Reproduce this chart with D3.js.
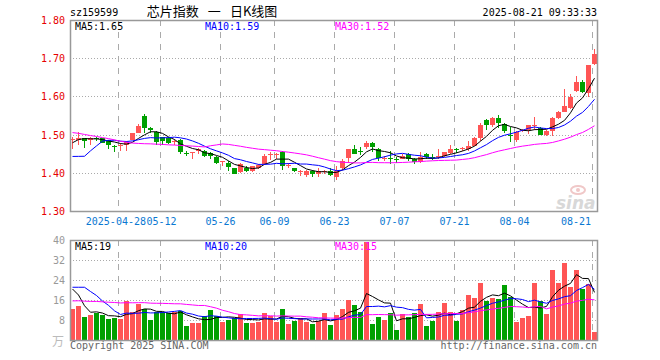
<!DOCTYPE html>
<html><head><meta charset="utf-8">
<script src="https://cdn.jsdelivr.net/npm/d3@7"></script>
<style>body{margin:0;background:#fff}svg{display:block}</style>
</head><body><svg id="c" width="660" height="360"></svg>
<script>
// ---------- data ----------
const dates = ["04-16","04-17","04-18","04-21","04-22","04-23","04-24","04-25","04-28","04-29","04-30",
"05-06","05-07","05-08","05-09","05-12","05-13","05-14","05-15","05-16","05-19","05-20","05-21","05-22","05-23","05-26","05-27","05-28","05-29","05-30",
"06-03","06-04","06-05","06-06","06-09","06-10","06-11","06-12","06-13","06-16","06-17","06-18","06-19","06-20","06-23","06-24","06-25","06-26","06-27","06-30",
"07-01","07-02","07-03","07-04","07-07","07-08","07-09","07-10","07-11","07-14","07-15","07-16","07-17","07-18","07-21","07-22","07-23","07-24","07-25","07-28","07-29","07-30","07-31",
"08-01","08-04","08-05","08-06","08-07","08-08","08-11","08-12","08-13","08-14","08-15","08-18","08-19","08-20","08-21"];
const opens = [1.487,1.486,1.490,1.486,1.490,1.490,1.485,1.471,1.471,1.472,1.486,1.505,1.550,1.516,1.508,1.494,1.492,1.482,1.485,1.451,1.453,1.457,1.457,1.452,1.442,1.429,1.426,1.412,1.401,1.412,
1.404,1.412,1.424,1.447,1.447,1.454,1.420,1.412,1.403,1.395,1.405,1.397,1.403,1.404,1.388,1.412,1.439,1.461,1.457,1.467,
1.477,1.463,1.436,1.440,1.436,1.436,1.450,1.436,1.427,1.450,1.442,1.443,1.443,1.452,1.462,1.464,1.461,1.471,1.490,1.537,1.524,1.544,1.529,
1.499,1.485,1.509,1.513,1.523,1.516,1.500,1.509,1.544,1.559,1.570,1.614,1.637,1.609,1.686];
const highs = [1.495,1.507,1.491,1.494,1.494,1.492,1.486,1.474,1.479,1.483,1.505,1.527,1.554,1.519,1.509,1.495,1.494,1.489,1.488,1.457,1.455,1.465,1.459,1.455,1.443,1.431,1.430,1.413,1.426,1.419,
1.419,1.424,1.448,1.454,1.452,1.457,1.426,1.413,1.408,1.408,1.408,1.412,1.408,1.412,1.419,1.435,1.461,1.474,1.467,1.483,
1.481,1.465,1.445,1.457,1.442,1.450,1.452,1.439,1.455,1.452,1.448,1.463,1.455,1.474,1.465,1.468,1.483,1.493,1.531,1.541,1.546,1.552,1.531,
1.520,1.509,1.515,1.524,1.546,1.519,1.511,1.545,1.561,1.620,1.605,1.653,1.644,1.681,1.724];
const lows = [1.463,1.474,1.465,1.474,1.483,1.477,1.461,1.454,1.457,1.458,1.485,1.503,1.505,1.503,1.474,1.474,1.475,1.474,1.450,1.443,1.436,1.448,1.442,1.437,1.424,1.417,1.406,1.396,1.400,1.401,
1.401,1.411,1.421,1.433,1.435,1.408,1.412,1.403,1.392,1.390,1.390,1.388,1.397,1.392,1.381,1.408,1.426,1.448,1.446,1.461,
1.454,1.430,1.430,1.424,1.426,1.435,1.430,1.423,1.426,1.435,1.433,1.435,1.442,1.448,1.452,1.456,1.456,1.469,1.483,1.511,1.520,1.517,1.503,
1.480,1.480,1.506,1.502,1.513,1.500,1.496,1.496,1.541,1.559,1.568,1.612,1.609,1.599,1.683];
const closes = [1.488,1.492,1.483,1.492,1.489,1.479,1.473,1.470,1.472,1.481,1.504,1.523,1.517,1.512,1.481,1.483,1.477,1.483,1.454,1.450,1.454,1.461,1.443,1.443,1.426,1.430,1.414,1.397,1.423,1.405,
1.417,1.421,1.445,1.448,1.448,1.417,1.421,1.404,1.404,1.404,1.397,1.405,1.404,1.395,1.404,1.430,1.461,1.450,1.456,1.477,
1.468,1.439,1.439,1.439,1.435,1.445,1.435,1.427,1.442,1.442,1.441,1.444,1.454,1.461,1.461,1.465,1.471,1.491,1.526,1.524,1.544,1.531,1.509,
1.498,1.506,1.513,1.524,1.524,1.500,1.509,1.544,1.559,1.574,1.599,1.637,1.611,1.681,1.710];
const volumes = [12.4,13.7,9.3,10.0,10.9,10.0,8.4,8.9,8.4,15.7,11.3,14.3,12.4,8.0,11.3,11.1,10.7,11.3,11.6,5.7,6.9,6.9,9.6,12.0,9.6,7.1,8.0,8.7,10.3,6.9,
6.9,7.3,10.9,9.6,7.3,12.4,6.4,7.6,8.7,7.3,6.4,7.6,10.9,6.0,10.0,12.4,16.0,14.0,11.3,39.3,
6.4,9.2,8.0,10.8,4.0,10.4,9.2,10.8,14.4,5.6,7.7,11.2,14.8,11.2,7.6,12.0,18.0,16.9,22.8,15.6,16.9,16.4,22.0,
17.3,7.2,8.8,9.6,22.8,15.6,10.4,28.0,22.8,30.8,21.2,28.0,20.4,22.4,3.2];
// sessions before the visible window (03-05 .. 04-15), only used for the moving averages
const preCloses = [1.55,1.57,1.58,1.56,1.57,1.55,1.57,1.58,1.56,1.57,1.55,1.54,1.52,1.51,1.50,1.51,1.50,1.49,1.47,1.48,
1.49,1.48,1.35,1.36,1.355,1.45,1.47,1.495,1.49];
const preVolumes = [12,14,13,11,15,13,12,14,13,12,13,12,14,13,12,13,14,12,13,13,
13.7,9.3,27,27,32,25.7,30.8,23,10.1];
const priceTicks = [1.30,1.40,1.50,1.60,1.70,1.80];
const volTicks = [8,16,24,32,40];
const dateTicks = ["04-28","05-12","05-26","06-09","06-23","07-07","07-21","08-04","08-21"];
const dateTickLabels = ["2025-04-28","05-12","05-26","06-09","06-23","07-07","07-21","08-04","08-21"];
const maPriceLabels = ["MA5:1.65","MA10:1.59","MA30:1.52"];
const maVolLabels = ["MA5:19","MA10:20","MA30:15"];

// ---------- layout ----------
const svg = d3.select("#c");
const L = 70, R = 597, T1 = 20, B1 = 211, T2 = 240, B2 = 340;
const RED = "#ff5555", GREEN = "#00a000", GRID = "#aaaaaa", BORDER = "#999999";
const MACOL = ["#000000", "#0000ff", "#ff00ff"];
const mono = "'DejaVu Sans Mono', monospace";

const x = d3.scaleBand().domain(dates).range([69.3, 597.7]).paddingInner(1/6).paddingOuter(1/12);
const bw = x.bandwidth();
const cx = d => Math.floor(x(d) + bw / 2) + 0.5;
const y = d3.scaleLinear().domain([1.30, 1.80]).range([B1, T1]);
const yv = d3.scaleLinear().domain([0, 40]).range([B2, T2]);

const candles = dates.map((d, i) => ({d, o: opens[i], h: highs[i], l: lows[i], c: closes[i], v: volumes[i]}));

function movingAvg(vals, pre, n) {
  const full = pre.concat(vals);
  return vals.map((_, i) => {
    const end = pre.length + i;
    return d3.mean(full.slice(end - n + 1, end + 1));
  });
}

// ---------- grids ----------
function grid(top, bottom, yScale, ticks) {
  const g = svg.append("g");
  g.selectAll("line.h").data(ticks).join("line")
    .attr("x1", L).attr("x2", R)
    .attr("y1", t => Math.round(yScale(t)) + 0.5).attr("y2", t => Math.round(yScale(t)) + 0.5)
    .attr("stroke", GRID).attr("stroke-dasharray", "1,2");
  g.selectAll("line.v").data(dateTicks).join("line")
    .attr("x1", d => Math.round(x(d)) + 0.5).attr("x2", d => Math.round(x(d)) + 0.5)
    .attr("y1", top).attr("y2", bottom)
    .attr("stroke", GRID).attr("stroke-dasharray", "6,6");
}
grid(T1, B1, y, priceTicks.filter(t => t > 1.30 && t < 1.80));
grid(T2, B2, yv, volTicks.filter(t => t < 40));

// watermark
const wm = svg.append("g").attr("fill", "#d8d8d8");
wm.append("text").attr("x", 556).attr("y", 209).attr("font-family", "Verdana, 'DejaVu Sans', sans-serif")
  .attr("font-size", 17).attr("font-style", "italic").attr("font-weight", "bold").text("sina");
wm.append("ellipse").attr("cx", 578).attr("cy", 190).attr("rx", 7).attr("ry", 4).attr("fill", "none").attr("stroke", "#f0c8c8").attr("stroke-width", 2);
wm.append("circle").attr("cx", 578).attr("cy", 190).attr("r", 2).attr("fill", "#f0c8c8");

// ---------- candles ----------
const cg = svg.append("g").attr("shape-rendering", "crispEdges");
cg.selectAll("line").data(candles).join("line")
  .attr("x1", k => cx(k.d)).attr("x2", k => cx(k.d))
  .attr("y1", k => y(k.h)).attr("y2", k => y(k.l))
  .attr("stroke", k => k.c >= k.o ? RED : GREEN);
cg.selectAll("rect").data(candles).join("rect")
  .attr("x", k => cx(k.d) - 2.5).attr("width", 5)
  .attr("y", k => y(Math.max(k.o, k.c)))
  .attr("height", k => Math.max(1, Math.abs(y(k.o) - y(k.c))))
  .attr("fill", k => k.c >= k.o ? RED : GREEN);

// ---------- volume bars ----------
const vg = svg.append("g").attr("shape-rendering", "crispEdges");
vg.selectAll("rect").data(candles).join("rect")
  .attr("x", k => cx(k.d) - 2.5).attr("width", 5)
  .attr("y", k => yv(k.v)).attr("height", k => yv(0) - yv(k.v))
  .attr("fill", k => k.c >= k.o ? RED : GREEN);

// ---------- moving averages ----------
[5, 10, 30].forEach((n, j) => {
  const mp = movingAvg(closes, preCloses, n);
  svg.append("path").datum(mp)
    .attr("d", d3.line().x((v, i) => cx(dates[i])).y(v => y(v)))
    .attr("fill", "none").attr("stroke", MACOL[j]).attr("stroke-width", 1);
  const mv = movingAvg(volumes, preVolumes, n);
  svg.append("path").datum(mv)
    .attr("d", d3.line().x((v, i) => cx(dates[i])).y(v => yv(v)))
    .attr("fill", "none").attr("stroke", MACOL[j]).attr("stroke-width", 1);
});

// ---------- borders ----------
[[T1, B1], [T2, B2]].forEach(([t, b]) => {
  svg.append("rect").attr("x", L + 0.5).attr("y", t + 0.5).attr("width", R - L).attr("height", b - t)
    .attr("fill", "none").attr("stroke", BORDER).attr("stroke-width", 1.5);
});

// ---------- axis labels ----------
const axP = svg.append("g").attr("font-family", mono).attr("font-size", 10).attr("fill", "#e60000").attr("text-anchor", "end");
axP.selectAll("text").data(priceTicks).join("text")
  .attr("x", 65).attr("y", t => y(t) + 4).text(t => t.toFixed(2));
const axV = svg.append("g").attr("font-family", mono).attr("font-size", 10).attr("fill", "#999").attr("text-anchor", "end");
axV.selectAll("text").data(volTicks).join("text")
  .attr("x", 65).attr("y", t => yv(t) + 4).text(t => t);
svg.append("text").attr("x", 64).attr("y", 346).attr("text-anchor", "end")
  .attr("font-family", "'Noto Sans CJK SC', sans-serif").attr("font-size", 12).attr("fill", "#bbb").text("万");

const axD = svg.append("g").attr("font-family", mono).attr("font-size", 10).attr("fill", "#0a78d2");
axD.selectAll("text").data(dateTicks).join("text")
  .attr("x", (d, i) => i === 0 ? 146 : i === dateTicks.length - 1 ? 591 : (i === 1 ? 146.5 : Math.round(x(d)) + 0.5))
  .attr("text-anchor", (d, i) => i === 0 ? "end" : i === 1 ? "start" : i === dateTicks.length - 1 ? "end" : "middle")
  .attr("y", 225).text((d, i) => dateTickLabels[i]);

// ---------- headers ----------
svg.append("text").attr("x", 70).attr("y", 16).attr("font-family", mono).attr("font-size", 10).attr("fill", "#000").text("sz159599");
svg.append("text").attr("x", 212).attr("y", 16).attr("text-anchor", "middle")
  .attr("font-family", "'Noto Sans CJK SC', sans-serif").attr("font-size", 13).attr("fill", "#000")
  .text("芯片指数\u2002\u2009一\u2002\u2009日K线图");
svg.append("text").attr("x", 597).attr("y", 16).attr("text-anchor", "end").attr("font-family", mono).attr("font-size", 10).attr("fill", "#000").text("2025-08-21 09:33:33");

const labX = [75, 205, 335];
maPriceLabels.forEach((t, j) => svg.append("text").attr("x", labX[j]).attr("y", 30)
  .attr("font-family", mono).attr("font-size", 10).attr("fill", MACOL[j]).text(t));
maVolLabels.forEach((t, j) => svg.append("text").attr("x", labX[j]).attr("y", 250)
  .attr("font-family", mono).attr("font-size", 10).attr("fill", MACOL[j]).text(t));

svg.append("text").attr("x", 70).attr("y", 349).attr("font-family", mono).attr("font-size", 10).attr("fill", "#666").text("Copyright 2025 SINA.COM");
svg.append("text").attr("x", 597).attr("y", 349).attr("text-anchor", "end").attr("font-family", mono).attr("font-size", 10).attr("fill", "#666").text("http://finance.sina.com.cn");
</script></body></html>
